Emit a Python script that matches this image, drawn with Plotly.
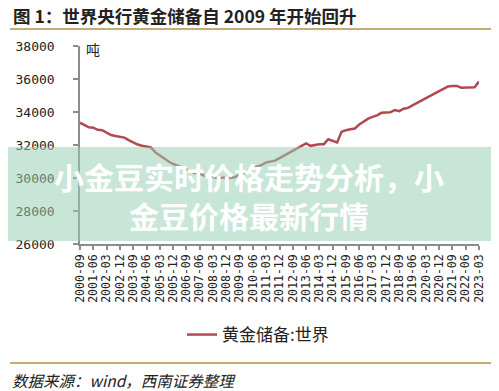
import plotly.graph_objects as go

# quarterly periods 2000-09 .. 2023-03
periods = []
y, m = 2000, 9
while (y, m) <= (2023, 3):
    periods.append(f"{y}-{m:02d}")
    m += 3
    if m > 12:
        m -= 12
        y += 1

reserves = [
    33350, 33200, 33070, 33050, 32920, 32900, 32750, 32600, 32550, 32500,
    32450, 32300, 32150, 32030, 31950, 31920, 31850, 31550, 31350, 31200,
    31000, 30850, 30750, 30650, 30500, 30400, 30300, 30250, 30150, 30100,
    30050, 30000, 30020, 30050, 30000, 30050, 30200, 30300, 30450, 30550,
    30700, 30800, 30950, 31000, 31050, 31200, 31350, 31500, 31650, 31800,
    32000, 32100, 31950, 32000, 32050, 32050, 32350, 32250, 32150, 32800,
    32900, 32950, 33000, 33250, 33450, 33600, 33700, 33800, 33950, 33950,
    33980, 34120, 34050, 34200, 34250, 34400, 34550, 34700, 34850, 35000,
    35150, 35270, 35400, 35550, 35580, 35580, 35470, 35470, 35470, 35500,
    35840,
]
tick_labels = periods[::3]
y_ticks = [26000, 28000, 30000, 32000, 34000, 36000, 38000]

title_text = "图 1：世界央行黄金储备自 2009 年开始回升"
unit_text = "吨"
series_name = "黄金储备:世界"
source_text = "<i>数据来源：wind，西南证券整理</i>"
overlay_text = "小金豆实时价格走势分析，小<br>金豆价格最新行情"

# page has an 8px body margin; figure is sized/shifted to compensate
OFF = 8
W, H = 499 - OFF, 391 - OFF
PL, PR, PT, PB = 80, 479, 46, 244          # plot area in page pixels
L, T = PL - OFF, PT - OFF
R, B = W - (PR - OFF), H - (PB - OFF)
pw, ph = W - L - R, H - T - B

def px_x(x):
    return (x - OFF - L) / pw

def px_y(y):
    return (H - B - (y - OFF)) / ph

cjk = "Noto Sans CJK SC"
mono = "DejaVu Sans Mono"

fig = go.Figure()
fig.add_trace(go.Scatter(
    x=periods, y=reserves, mode="lines", name=series_name,
    line=dict(color="#b04a50", width=2.5),
))

fig.update_layout(
    width=W, height=H,
    margin=dict(l=L, r=R, t=T, b=B, autoexpand=False),
    paper_bgcolor="white", plot_bgcolor="white",
    showlegend=True,
    legend=dict(orientation="h", x=px_x(182), xanchor="left", y=px_y(335), yanchor="middle",
                font=dict(family=cjk, size=17, color="#222"), bgcolor="rgba(0,0,0,0)"),
    xaxis=dict(
        type="category", range=[0, len(periods) - 1], automargin=False,
        tickmode="array", tickvals=tick_labels, ticktext=tick_labels,
        tickangle=-90, tickfont=dict(family=mono, size=11.5, color="#222"),
        showgrid=False, showline=True, linecolor="#8c8c8c", linewidth=1.5,
        ticks="outside", ticklen=4, tickcolor="#8c8c8c", tickwidth=1.5,
        zeroline=False,
    ),
    yaxis=dict(
        range=[26000, 38000], tickvals=y_ticks, automargin=False,
        ticktext=[str(v) for v in y_ticks],
        tickfont=dict(family=mono, size=13, color="#222"),
        showgrid=False, showline=True, linecolor="#8c8c8c", linewidth=1.5,
        ticks="outside", ticklen=5, tickcolor="#8c8c8c", tickwidth=1.5,
        ticklabelstandoff=16, zeroline=False,
    ),
    shapes=[
        dict(type="line", xref="paper", yref="paper", x0=px_x(10), x1=px_x(493),
             y0=px_y(29), y1=px_y(29), line=dict(color="#c9aa72", width=2)),
        dict(type="line", xref="paper", yref="paper", x0=px_x(10), x1=px_x(493),
             y0=px_y(363), y1=px_y(363), line=dict(color="#c9aa72", width=2)),
        dict(type="rect", xref="paper", yref="paper", x0=px_x(0), x1=px_x(499),
             y0=px_y(241), y1=px_y(147), layer="above", line=dict(width=0),
             fillcolor="rgba(151,207,179,0.53)"),
    ],
    annotations=[
        dict(text=f"<b>{title_text}</b>", xref="paper", yref="paper", x=px_x(11), y=px_y(15.5),
             xanchor="left", yanchor="middle", showarrow=False,
             font=dict(family=cjk, size=17.5, color="#222")),
        dict(text=unit_text, xref="paper", yref="paper", x=px_x(84), y=px_y(49),
             xanchor="left", yanchor="middle", showarrow=False,
             font=dict(family=cjk, size=14, color="#222")),
        dict(text=source_text, xref="paper", yref="paper", x=px_x(10), y=px_y(380),
             xanchor="left", yanchor="middle", showarrow=False,
             font=dict(family=cjk, size=15.5, color="#222")),
        dict(text=f"<b>{overlay_text}</b>", xref="paper", yref="paper", x=px_x(249), y=px_y(195),
             xanchor="center", yanchor="middle", showarrow=False, align="center",
             font=dict(family=cjk, size=30, color="white")),
    ],
)

fig.write_html("out.html")
